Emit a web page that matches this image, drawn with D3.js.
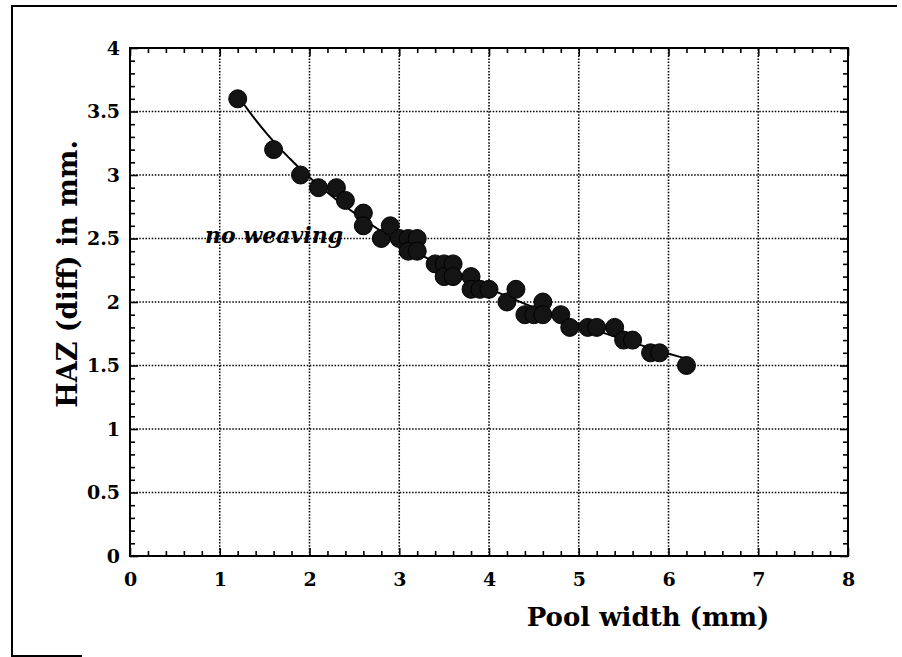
<!DOCTYPE html>
<html>
<head>
<meta charset="utf-8">
<script src="https://cdn.jsdelivr.net/npm/d3@7"></script>
<style>
  body { margin: 0; background: #fff; }
  svg text { font-family: "DejaVu Serif", "Liberation Serif", serif; font-weight: bold; fill: #000; }
</style>
</head>
<body>
<svg id="chart" width="902" height="657"></svg>
<script>
// Measured weld pool widths (mm) and HAZ difference (mm), no weaving
const poolWidth = [1.2, 1.6, 1.9, 2.1, 2.3, 2.4, 2.6, 2.6, 2.8, 2.9,
                   3.0, 3.1, 3.2, 3.1, 3.2, 3.4, 3.5, 3.5, 3.6, 3.6,
                   3.8, 3.8, 3.9, 4.0, 4.2, 4.3, 4.4, 4.5, 4.6, 4.6,
                   4.8, 4.9, 5.1, 5.2, 5.4, 5.5, 5.6, 5.8, 5.9, 6.2];
const hazDiff   = [3.6, 3.2, 3.0, 2.9, 2.9, 2.8, 2.7, 2.6, 2.5, 2.6,
                   2.5, 2.5, 2.5, 2.4, 2.4, 2.3, 2.3, 2.2, 2.3, 2.2,
                   2.2, 2.1, 2.1, 2.1, 2.0, 2.1, 1.9, 1.9, 2.0, 1.9,
                   1.9, 1.8, 1.8, 1.8, 1.8, 1.7, 1.7, 1.6, 1.6, 1.5];

const xTicks = [0, 1, 2, 3, 4, 5, 6, 7, 8];
const xTickLabels = ["0", "1", "2", "3", "4", "5", "6", "7", "8"];
const yTicks = [0, 0.5, 1, 1.5, 2, 2.5, 3, 3.5, 4];
const yTickLabels = ["0", "0.5", "1", "1.5", "2", "2.5", "3", "3.5", "4"];

const svg = d3.select("#chart");

const x = d3.scaleLinear().domain([0, 8]).range([130, 848]);
const y = d3.scaleLinear().domain([0, 4]).range([556, 48]);

const [x0, x1] = x.range();
const [y0, y1] = y.range();

// Outer frame (top and left edges, short foot at the bottom)
svg.append("path")
  .attr("d", `M897,6 L12,6 L12,656 L82,656`)
  .attr("fill", "none").attr("stroke", "#000").attr("stroke-width", 2);

// Dotted grid at the major ticks
const grid = svg.append("g")
  .attr("stroke", "#000").attr("stroke-width", 1.6)
  .attr("stroke-dasharray", "1.5,1.6");
grid.selectAll("line.gx")
  .data(xTicks.filter(d => d > 0 && d < 8))
  .join("line").attr("class", "gx")
  .attr("x1", d => x(d)).attr("x2", d => x(d))
  .attr("y1", y0).attr("y2", y1);
grid.selectAll("line.gy")
  .data(yTicks.filter(d => d > 0 && d < 4))
  .join("line").attr("class", "gy")
  .attr("y1", d => y(d)).attr("y2", d => y(d))
  .attr("x1", x0).attr("x2", x1);

// Minor tick positions
const xMinor = d3.range(0, 8.0001, 0.2).map(d => +d.toFixed(1)).filter(d => !xTicks.includes(d));
const yMinor = d3.range(0, 4.0001, 0.1).map(d => +d.toFixed(1)).filter(d => !yTicks.includes(d));

function styleAxis(g) {
  g.select(".domain").remove();
  g.selectAll(".tick line").attr("stroke", "#000").attr("stroke-width", 1.6);
}

// Bottom axis: labelled major ticks plus minor ticks, all pointing inward
svg.append("g").attr("transform", `translate(0,${y0})`)
  .call(d3.axisBottom(x).tickValues(xTicks).tickFormat((d, i) => xTickLabels[i])
        .tickSizeInner(-8).tickSizeOuter(0).tickPadding(17))
  .call(styleAxis)
  .call(g => g.selectAll("text").attr("font-size", 19).attr("font-family", null));
svg.append("g").attr("transform", `translate(0,${y0})`)
  .call(d3.axisBottom(x).tickValues(xMinor).tickFormat("").tickSizeInner(-5).tickSizeOuter(0))
  .call(styleAxis);

// Top axis (ticks only)
svg.append("g").attr("transform", `translate(0,${y1})`)
  .call(d3.axisTop(x).tickValues(xTicks).tickFormat("").tickSizeInner(-8).tickSizeOuter(0))
  .call(styleAxis);
svg.append("g").attr("transform", `translate(0,${y1})`)
  .call(d3.axisTop(x).tickValues(xMinor).tickFormat("").tickSizeInner(-5).tickSizeOuter(0))
  .call(styleAxis);

// Left axis: labelled major ticks plus minor ticks
svg.append("g").attr("transform", `translate(${x0},0)`)
  .call(d3.axisLeft(y).tickValues(yTicks).tickFormat((d, i) => yTickLabels[i])
        .tickSizeInner(-8).tickSizeOuter(0).tickPadding(10))
  .call(styleAxis)
  .call(g => g.selectAll("text").attr("font-size", 19).attr("font-family", null));
svg.append("g").attr("transform", `translate(${x0},0)`)
  .call(d3.axisLeft(y).tickValues(yMinor).tickFormat("").tickSizeInner(-5).tickSizeOuter(0))
  .call(styleAxis);

// Right axis (ticks only)
svg.append("g").attr("transform", `translate(${x1},0)`)
  .call(d3.axisRight(y).tickValues(yTicks).tickFormat("").tickSizeInner(-8).tickSizeOuter(0))
  .call(styleAxis);
svg.append("g").attr("transform", `translate(${x1},0)`)
  .call(d3.axisRight(y).tickValues(yMinor).tickFormat("").tickSizeInner(-5).tickSizeOuter(0))
  .call(styleAxis);

// Plot frame
svg.append("rect")
  .attr("x", x0).attr("y", y1)
  .attr("width", x1 - x0).attr("height", y0 - y1)
  .attr("fill", "none").attr("stroke", "#000").attr("stroke-width", 2);

// Logarithmic least-squares fit  HAZ = a + b·ln(width)
const pts = poolWidth.map((w, i) => [w, hazDiff[i]]);
const lx = pts.map(p => Math.log(p[0]));
const mx = d3.mean(lx), my = d3.mean(hazDiff);
const b = d3.sum(lx, (v, i) => (v - mx) * (hazDiff[i] - my)) / d3.sum(lx, v => (v - mx) ** 2);
const a = my - b * mx;
const [wMin, wMax] = d3.extent(poolWidth);
const fitX = d3.range(wMin, wMax + 1e-9, (wMax - wMin) / 60);

svg.append("path")
  .datum(fitX)
  .attr("d", d3.line().x(d => x(d)).y(d => y(a + b * Math.log(d))))
  .attr("fill", "none").attr("stroke", "#000").attr("stroke-width", 2);

// Data points
svg.append("g").selectAll("circle")
  .data(pts)
  .join("circle")
  .attr("cx", d => x(d[0])).attr("cy", d => y(d[1]))
  .attr("r", 9)
  .attr("fill", "#141414").attr("stroke", "#000").attr("stroke-width", 1);

// Annotation
svg.append("text")
  .attr("x", 205).attr("y", 243)
  .attr("font-size", 22).attr("font-style", "italic")
  .text("no weaving");

// Axis titles
svg.append("text")
  .attr("x", 648).attr("y", 626)
  .attr("text-anchor", "middle").attr("font-size", 26)
  .text("Pool width (mm)");

svg.append("text")
  .attr("transform", `translate(77,274) rotate(-90)`)
  .attr("text-anchor", "middle").attr("font-size", 27)
  .text("HAZ (diff) in mm.");
</script>
</body>
</html>
